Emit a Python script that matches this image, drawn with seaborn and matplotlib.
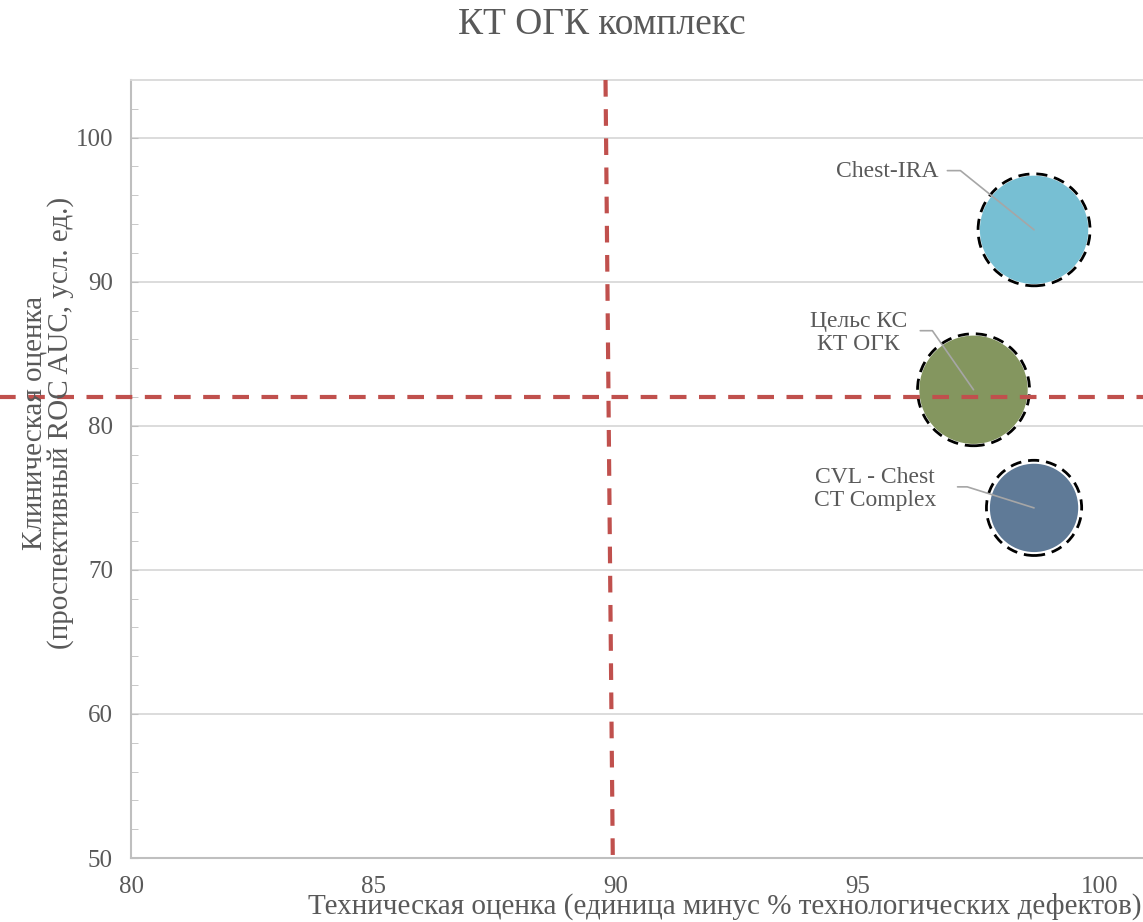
import numpy as np
import pandas as pd
import matplotlib
matplotlib.use('Agg')
import matplotlib.pyplot as plt
import seaborn as sns

# data
names = ['Chest-IRA', 'Цельс КС\nКТ ОГК', 'CVL - Chest\nCT Complex']
tech_score = [98.65, 97.40, 98.65]
clin_score = [93.6, 82.5, 74.3]
bubble = [1.0, 1.0, 0.67]
colors = ['#77BFD3', '#84965F', '#5F7A97']

# threshold lines
thr_x = [89.8, 89.95]
thr_x_y = [104, 50]
thr_y = 82.0

# label anchor positions (data units) and leader start points
label_pos = [(96.67, 97.64), (95.02, 86.46), (95.37, 75.6)]
label_ha = ['right', 'center', 'center']
leader_start = [(96.86, 97.71), (96.30, 86.60), (97.07, 75.76)]
leader_elbow = [(97.13, 97.71), (96.55, 86.60), (97.27, 75.76)]

df = pd.DataFrame({'name': names, 'x': tech_score, 'y': clin_score, 'size': bubble})

sns.set_style('white')
plt.rcParams['font.family'] = ['Liberation Serif', 'DejaVu Serif']
grey = '#595959'

fig = plt.figure(figsize=(11.43, 9.22), dpi=100)
ax = fig.add_axes([131 / 1143, 1 - 858 / 922, 1 - 131 / 1143, (858 - 80) / 922])

# bubbles
sns.scatterplot(data=df, x='x', y='y', hue='name', palette=colors, size='size',
                sizes=(4199, 6273), edgecolor='white', linewidth=1.2, legend=False,
                ax=ax, zorder=3)
# dashed outlines
sns.scatterplot(data=df, x='x', y='y', size='size', sizes=(4700, 6500),
                facecolor='none', edgecolor='black', linewidth=2,
                linestyle=(0, (4, 2.5)), legend=False, ax=ax, zorder=4)

# threshold lines
ax.plot(thr_x, thr_x_y, color='#C0504D', lw=3, ls=(0, (4, 3)), zorder=5, clip_on=False)
ax.plot([77.2, 101.0], [thr_y, thr_y], color='#C0504D', lw=3, ls=(0, (4, 3)),
        zorder=5, clip_on=False)

# labels with leader lines
for i in range(len(names)):
    lx, ly = label_pos[i]
    ax.text(lx, ly, names[i], ha=label_ha[i], va='center', fontsize=17,
            color=grey, linespacing=1.1, zorder=6)
    sx, sy = leader_start[i]
    ex, ey = leader_elbow[i]
    ax.plot([sx, ex, tech_score[i]], [sy, ey, clin_score[i]], color='#A6A6A6',
            lw=1.2, zorder=6)

ax.set_xlim(80, 100.9)
ax.set_ylim(50, 104)
ax.set_xticks([80, 85, 90, 95, 100])
ax.set_yticks([50, 60, 70, 80, 90, 100])
ax.set_yticks(np.arange(50, 104, 2), minor=True)
ax.yaxis.grid(True, color='#D9D9D9', lw=1.3)
ax.set_axisbelow(True)
ax.tick_params(axis='y', which='both', direction='in', length=5, color='#BFBFBF',
               labelsize=18, labelcolor=grey, pad=13, left=True)
ax.tick_params(axis='x', length=0, labelsize=18, labelcolor=grey, pad=13)
for side in ['left', 'bottom']:
    ax.spines[side].set_color('#BFBFBF')
    ax.spines[side].set_linewidth(1.5)
ax.spines['top'].set_color('#D9D9D9')
ax.spines['top'].set_linewidth(1.3)
ax.spines['right'].set_visible(False)
ax.set_xlabel('')
ax.set_ylabel('')

fig.text(602 / 1143, 1 - 25 / 922, 'КТ ОГК комплекс', ha='center', va='center',
         fontsize=27, color=grey)
fig.text(1141 / 1143, 1 - 906 / 922,
         'Техническая оценка (единица минус % технологических дефектов)',
         ha='right', va='center', fontsize=21, color=grey)
fig.text(48 / 1143, 1 - 423 / 922,
         'Клиническая оценка\n(проспективный ROC AUC, усл. ед.)',
         ha='center', va='center', rotation=90, fontsize=21, color=grey,
         linespacing=1.0)

fig.savefig('out.png', dpi=100)
